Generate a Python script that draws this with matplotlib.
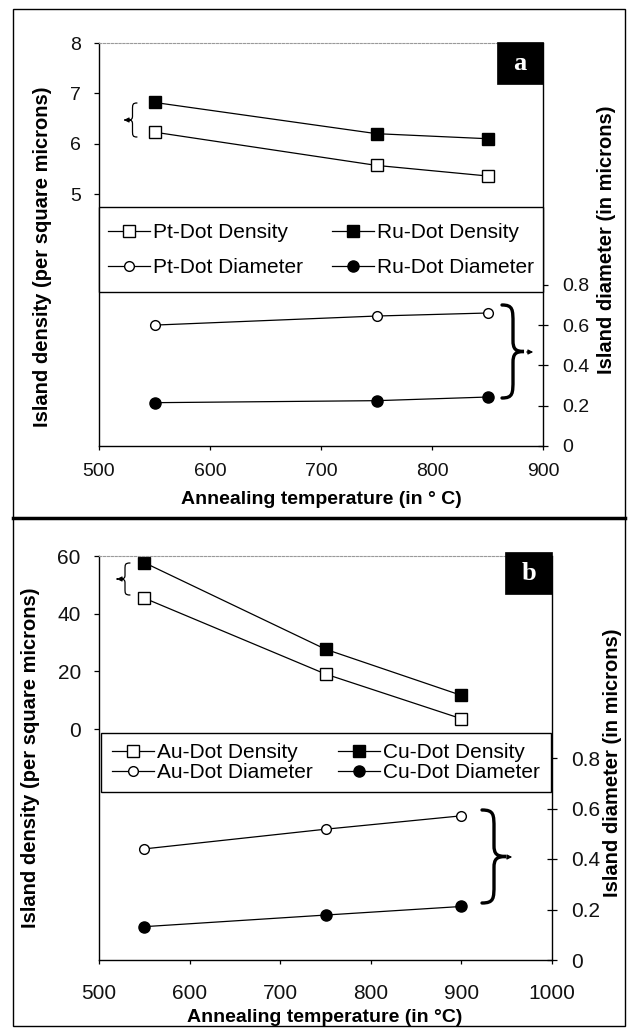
import matplotlib
matplotlib.use('Agg')
import matplotlib.pyplot as plt
from matplotlib.path import Path
from matplotlib.patches import PathPatch, Rectangle, FancyArrowPatch

# ---------------- data ----------------
temps_a = [550, 750, 850]
pt_density = [6.23, 5.57, 5.36]
ru_density = [6.82, 6.20, 6.10]
pt_diameter = [0.600, 0.645, 0.660]
ru_diameter = [0.215, 0.225, 0.243]

temps_b = [550, 750, 900]
au_density = [45.4, 19.1, 3.6]
cu_density = [57.7, 27.7, 11.7]
au_diameter = [0.440, 0.518, 0.571]
cu_diameter = [0.132, 0.178, 0.212]

xticks_a = [500, 600, 700, 800, 900]
xticks_b = [500, 600, 700, 800, 900, 1000]
dens_ticks_a = [5, 6, 7, 8]
dens_ticks_b = [0, 20, 40, 60]
diam_ticks = [0, 0.2, 0.4, 0.6, 0.8]
diam_ticklabels = ['0', '0.2', '0.4', '0.6', '0.8']

labels_a = ['Pt-Dot Density', 'Pt-Dot Diameter', 'Ru-Dot Density', 'Ru-Dot Diameter']
labels_b = ['Au-Dot Density', 'Au-Dot Diameter', 'Cu-Dot Density', 'Cu-Dot Diameter']
xlabel_a = 'Annealing temperature (in \u00b0 C)'
xlabel_b = 'Annealing temperature (in \u00b0C)'
ylabel_left = 'Island density (per square microns)'
ylabel_right = 'Island diameter (in microns)'

# ---------------- figure ----------------
W, H = 628, 1028
fig = plt.figure(figsize=(W / 100, H / 100), dpi=100)
fig.patch.set_facecolor('white')

SANS = 'Liberation Sans'
SERIF = 'Liberation Serif'


def FX(x):
    return x / W


def FY(y):
    return 1 - y / H


def axes_px(l, t, r, b):
    return fig.add_axes([FX(l), FY(b), (r - l) / W, (b - t) / H])


def brace(x_end, x_tip, y_top, y_bot, lw):
    w = x_tip - x_end
    h = y_bot - y_top
    pts = [(0, 0), (0.5, 0), (0.5, 0.05), (0.5, 0.2), (0.5, 0.38),
           (0.5, 0.47), (0.6, 0.5), (1, 0.5),
           (0.6, 0.5), (0.5, 0.53), (0.5, 0.62), (0.5, 0.8),
           (0.5, 0.95), (0.5, 1), (0, 1)]
    codes = [Path.MOVETO, Path.CURVE4, Path.CURVE4, Path.CURVE4, Path.LINETO,
             Path.CURVE4, Path.CURVE4, Path.CURVE4,
             Path.CURVE4, Path.CURVE4, Path.CURVE4, Path.LINETO,
             Path.CURVE4, Path.CURVE4, Path.CURVE4]
    verts = [(FX(x_end + u * w), FY(y_top + v * h)) for u, v in pts]
    p = PathPatch(Path(verts, codes), fill=False, lw=lw, ec='black',
                  transform=fig.transFigure, zorder=10, capstyle='round')
    fig.add_artist(p)


def arrow(x0, y0, x1, y1):
    a = FancyArrowPatch((FX(x0), FY(y0)), (FX(x1), FY(y1)),
                        arrowstyle='-|>', mutation_scale=7, lw=0.9,
                        color='black', transform=fig.transFigure, zorder=10)
    fig.add_artist(a)


def make_panel(L, T, R, B, xlim, xticks, dlim, dticks, rlim,
               x, d1, d2, r1, r2, labels, tick_fs, xpad, rpad,
               leg_rect, leg_x1, leg_x2, leg_yc, leg_spacing,
               box, letter, xlabel, xlabel_pos, yl_pos, yr_pos):
    ax = axes_px(L, T, R, B)
    ax2 = ax.twinx()
    ax.set_xlim(*xlim)
    ax.set_ylim(*dlim)
    ax2.set_ylim(*rlim)
    ax.set_xticks(xticks)
    ax.set_xticklabels([str(v) for v in xticks])
    ax.set_yticks(dticks)
    ax.set_yticklabels([str(v) for v in dticks])
    ax2.set_yticks(diam_ticks)
    ax2.set_yticklabels(diam_ticklabels)

    for a in (ax, ax2):
        for s in a.spines.values():
            s.set_linewidth(1.0)
            s.set_color('black')
    ax.spines['right'].set_visible(False)
    ax.spines['top'].set_color('#9a9a9a')
    ax.spines['top'].set_linestyle((0, (2, 1.5)))
    ax.spines['top'].set_linewidth(0.8)
    ax2.spines['left'].set_visible(False)
    ax2.spines['top'].set_visible(False)
    ax2.spines['bottom'].set_visible(False)

    ax.tick_params(axis='y', direction='out', length=3.6, width=0.9,
                   pad=9.5, labelsize=tick_fs, labelcolor='#111')
    ax.tick_params(axis='x', direction='out', length=3.0, width=0.9,
                   pad=xpad, labelsize=tick_fs, labelcolor='#111')
    ax2.tick_params(axis='y', direction='inout', length=7, width=0.9,
                    pad=rpad, labelsize=tick_fs, labelcolor='#111')
    for t in ax.get_xticklabels() + ax.get_yticklabels() + ax2.get_yticklabels():
        t.set_fontfamily(SANS)

    kw = dict(color='black', lw=0.9, mew=1.0, mec='black')
    h1, = ax.plot(x, d1, marker='s', ms=8.5, mfc='white', **kw)
    h3, = ax.plot(x, d2, marker='s', ms=8.5, mfc='black', **kw)
    h2, = ax2.plot(x, r1, marker='o', ms=7, mfc='white', **kw)
    h4, = ax2.plot(x, r2, marker='o', ms=8, mfc='black', **kw)
    for h in (h1, h2, h3, h4):
        h.set_clip_on(False)

    # legend box
    lx0, ly0, lx1, ly1 = leg_rect
    fig.add_artist(Rectangle((FX(lx0), FY(ly1)), (lx1 - lx0) / W, (ly1 - ly0) / H,
                             transform=fig.transFigure, fc='white', ec='black',
                             lw=1.0, zorder=9))
    prop = dict(family=SANS, size=15)
    for xs, hs, ls in ((leg_x1, [h1, h2], labels[:2]), (leg_x2, [h3, h4], labels[2:])):
        lg = fig.legend(hs, ls, loc='center left', bbox_to_anchor=(FX(xs), FY(leg_yc)),
                        frameon=False, ncol=1, handlelength=2.0, handletextpad=0.15,
                        borderpad=0, borderaxespad=0, labelspacing=leg_spacing,
                        prop=prop, numpoints=1)
        lg.set_zorder(11)

    # letter box
    bx0, by0, bx1, by1 = box
    fig.add_artist(Rectangle((FX(bx0), FY(by1)), (bx1 - bx0) / W, (by1 - by0) / H,
                             transform=fig.transFigure, fc='black', ec='black',
                             lw=0.5, zorder=10))
    fig.text(FX((bx0 + bx1) / 2), FY((by0 + by1) / 2), letter, color='white',
             fontsize=19, fontweight='bold', family=SERIF, ha='center',
             va='center', zorder=12)

    fig.text(FX(xlabel_pos[0]), FY(xlabel_pos[1]), xlabel, fontsize=14,
             fontweight='bold', family=SANS, ha='center', va='center')
    fig.text(FX(yl_pos[0]), FY(yl_pos[1]), ylabel_left, fontsize=14.5,
             fontweight='bold', family=SANS, ha='center', va='center', rotation=90)
    fig.text(FX(yr_pos[0]), FY(yr_pos[1]), ylabel_right, fontsize=14.5,
             fontweight='bold', family=SANS, ha='center', va='center', rotation=90)
    return ax, ax2


# panel a
make_panel(99, 43, 543, 446, (500, 900), xticks_a, (0, 8), dens_ticks_a, (0, 2),
           temps_a, pt_density, ru_density, pt_diameter, ru_diameter, labels_a,
           tick_fs=14, xpad=9.5, rpad=10.5,
           leg_rect=(99, 207, 543, 292), leg_x1=108, leg_x2=332, leg_yc=250,
           leg_spacing=0.77, box=(497, 42, 543, 84), letter='a',
           xlabel=xlabel_a, xlabel_pos=(321, 499), yl_pos=(43, 257), yr_pos=(607, 240))

# panel b
make_panel(99, 556, 552, 960, (500, 1000), xticks_b, (-80, 60), dens_ticks_b, (0, 1.6),
           temps_b, au_density, cu_density, au_diameter, cu_diameter, labels_b,
           tick_fs=15, xpad=14, rpad=10,
           leg_rect=(101, 733, 551, 792), leg_x1=112, leg_x2=338, leg_yc=762.5,
           leg_spacing=0.05, box=(505, 552, 552, 594), letter='b',
           xlabel=xlabel_b, xlabel_pos=(325, 1017), yl_pos=(31, 758), yr_pos=(612, 763))

# braces and arrows
brace(137, 128, 103, 137, 0.9)
arrow(128, 120, 121, 120)
brace(502, 524, 305, 398, 2.4)
arrow(524, 352, 536, 352)
brace(130, 120, 563, 595, 0.9)
arrow(120, 579, 114, 579)
brace(482, 506, 810, 903, 2.4)
arrow(506, 857, 515, 857)

# panel borders
for (x0, y0, x1, y1) in ((13, 9, 625, 518), (13, 518, 625, 1026)):
    fig.add_artist(Rectangle((FX(x0), FY(y1)), (x1 - x0) / W, (y1 - y0) / H,
                             transform=fig.transFigure, fill=False, ec='black',
                             lw=1.0, zorder=8))
fig.add_artist(plt.Line2D([FX(13), FX(625)], [FY(518), FY(518)], lw=2.5,
                          color='black', transform=fig.transFigure, zorder=8))

fig.savefig('out.png', dpi=100, facecolor='white')
